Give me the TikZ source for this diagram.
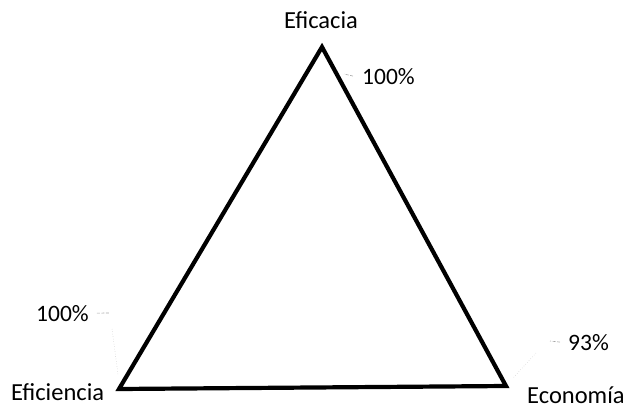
\documentclass[tikz,border=0pt]{standalone}
\usepackage{fontspec}
\setmainfont{Carlito}
\usetikzlibrary{positioning}

\tikzset{
  %% tri_edge : the sides of the triangle
  tri_edge/.style={line width=4.2pt, line join=miter, black},
  %% corner_label : name of a corner
  corner_label/.style={
    inner sep=0pt,
    font=\fontsize{24.5}{28}\selectfont
  },
  %% pct_label : percentage at a corner
  pct_label/.style={
    inner sep=0pt,
    font=\fontsize{23.5}{27}\selectfont
  },
  %% leader : faint line from a percentage
  leader/.style={gray!70, line width=0.6pt, dash pattern=on 3pt off 1.5pt},
  leader_dots/.style={gray!45, line width=0.5pt, dotted}
}

\begin{document}
\begin{tikzpicture}
  [x=1pt,
  y=-1pt]

  \useasboundingbox (0, 0) rectangle (633, 408);

  %% Corners
  \coordinate (top) at (322, 47);
  \coordinate (left) at (119, 389);
  \coordinate (right) at (506, 386);

  %% Corner names
  \node (eficacia) [corner_label, anchor=base] at (321, 28) {Eficacia};
  \node (eficiencia) [corner_label, anchor=base west] at (11, 400) {Eficiencia};
  \node (economia) [corner_label, anchor=base west] at (527, 403) {Economía};

  %% Percentages
  \node (pcttop) [pct_label, anchor=base west] at (362, 84) {100\%};
  \node (pctleft) [pct_label, anchor=base west] at (36, 321) {100\%};
  \node (pctright) [pct_label, anchor=base west] at (568, 350) {93\%};

  %% Triangle
  \draw [tri_edge] (top) -- (right) -- (left) -- cycle;

  %% Leaders
  \coordinate (ltop) at (344, 74);
  \draw [leader] (pcttop.west) ++(-9, 0) -- (ltop);

  \coordinate (lleft) at (110, 313);
  \coordinate (lleftdown) at (118, 374);
  \draw [leader] (pctleft.east) ++(8, 0) -- (lleft);
  \draw [leader_dots] ([xshift=2pt, yshift=-16pt]lleft) -- (lleftdown);

  \coordinate (lright) at (550, 341);
  \coordinate (lrightdown) at (513, 378);
  \draw [leader] (pctright.west) ++(-8, 0) -- (lright);
  \draw [leader_dots] ([xshift=-14pt, yshift=-12pt]lright) -- (lrightdown);

\end{tikzpicture}
\end{document}
